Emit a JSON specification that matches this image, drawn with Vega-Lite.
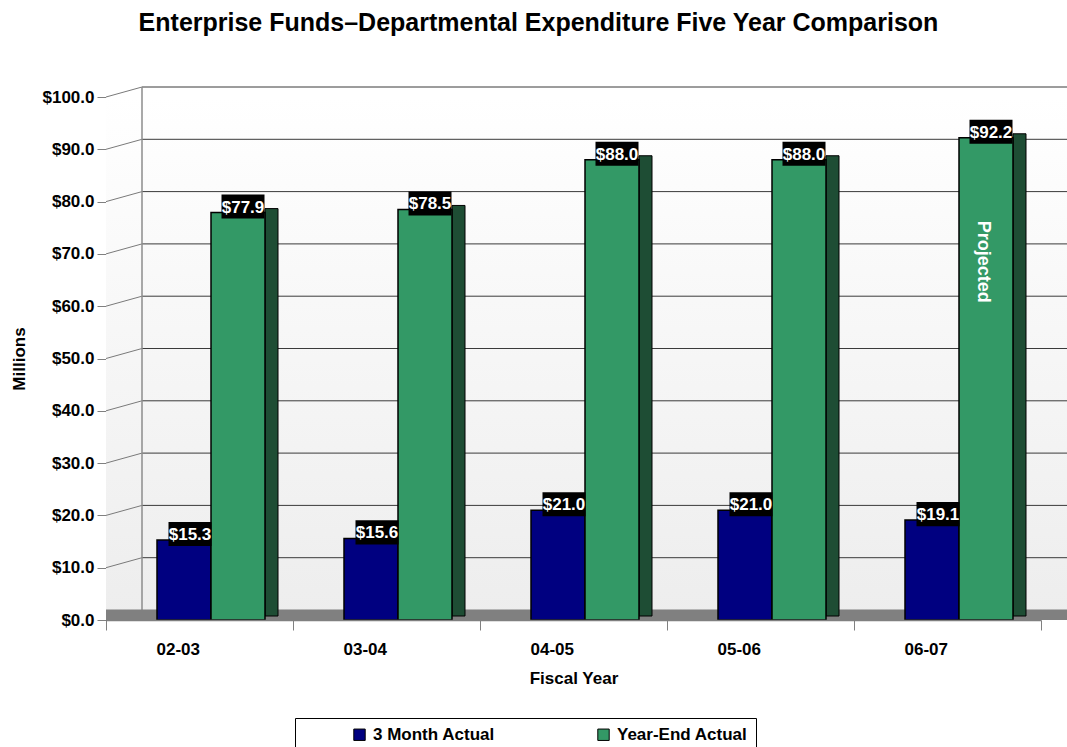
{
  "$schema": "https://vega.github.io/schema/vega-lite/v6.json",
  "width": 935,
  "height": 523,
  "autosize": {"type": "none"},
  "padding": {"left": 106, "top": 97, "right": 26, "bottom": 127},
  "background": "white",
  "title": {
    "text": "Enterprise Funds–Departmental Expenditure Five Year Comparison",
    "font": "Liberation Sans",
    "fontSize": 25,
    "fontWeight": "bold",
    "color": "black",
    "anchor": "middle",
    "frame": "group",
    "dx": -35,
    "offset": 50
  },
  "config": {
    "view": {"stroke": null},
    "legend": {
      "orient": "none",
      "legendX": 189,
      "legendY": 621,
      "direction": "horizontal",
      "strokeColor": "black",
      "fillColor": "white",
      "padding": 8,
      "symbolOffset": 48,
      "columnPadding": 52,
      "labelFont": "Liberation Sans",
      "labelFontSize": 17,
      "labelFontWeight": "bold",
      "labelColor": "black",
      "labelOffset": 5,
      "symbolType": "square",
      "symbolSize": 130,
      "symbolStrokeColor": "black",
      "symbolStrokeWidth": 1
    }
  },
  "datasets": {
    "bars": [
      {"year": "02-03", "series": "3 Month Actual", "value": 15.3},
      {"year": "02-03", "series": "Year-End Actual", "value": 77.9},
      {"year": "03-04", "series": "3 Month Actual", "value": 15.6},
      {"year": "03-04", "series": "Year-End Actual", "value": 78.5},
      {"year": "04-05", "series": "3 Month Actual", "value": 21.0},
      {"year": "04-05", "series": "Year-End Actual", "value": 88.0},
      {"year": "05-06", "series": "3 Month Actual", "value": 21.0},
      {"year": "05-06", "series": "Year-End Actual", "value": 88.0},
      {"year": "06-07", "series": "3 Month Actual", "value": 19.1},
      {"year": "06-07", "series": "Year-End Actual", "value": 92.2, "note": "Projected"}
    ],
    "grid": [
      {"value": 10}, {"value": 20}, {"value": 30}, {"value": 40}, {"value": 50},
      {"value": 60}, {"value": 70}, {"value": 80}, {"value": 90}, {"value": 100}
    ]
  },
  "data": {"name": "bars"},
  "layer": [
    {
      "data": {"values": [{}]},
      "mark": {
        "type": "rect",
        "color": {
          "gradient": "linear", "x1": 0, "y1": 0, "x2": 0, "y2": 1,
          "stops": [{"offset": 0, "color": "#ffffff"}, {"offset": 1, "color": "#ededed"}]
        },
        "x2Offset": 26
      },
      "encoding": {
        "x": {"datum": "02-03", "type": "nominal", "bandPosition": 0},
        "x2": {"datum": "06-07", "bandPosition": 1},
        "y": {"datum": 100, "type": "quantitative"},
        "y2": {"datum": 0}
      }
    },
    {
      "data": {"name": "grid"},
      "mark": {"type": "rule", "color": "#3a3a3a", "strokeWidth": 1, "xOffset": 36, "x2Offset": 40, "yOffset": -10, "y2Offset": -10},
      "encoding": {
        "x": {"datum": "02-03", "type": "nominal", "bandPosition": 0},
        "x2": {"datum": "06-07", "bandPosition": 1},
        "y": {"field": "value", "type": "quantitative"}
      }
    },
    {
      "data": {"name": "grid"},
      "mark": {"type": "rule", "color": "#7a7a7a", "strokeWidth": 1, "x2Offset": 36, "y2Offset": -10},
      "encoding": {
        "x": {"datum": "02-03", "type": "nominal", "bandPosition": 0},
        "x2": {"datum": "02-03", "bandPosition": 0},
        "y": {"field": "value", "type": "quantitative"},
        "y2": {"field": "value"}
      }
    },
    {
      "data": {"values": [{}]},
      "mark": {"type": "rule", "color": "#8c8c8c", "strokeWidth": 1.5, "xOffset": 36, "yOffset": -10, "y2Offset": -10},
      "encoding": {
        "x": {"datum": "02-03", "type": "nominal", "bandPosition": 0},
        "y": {"datum": 100, "type": "quantitative"},
        "y2": {"datum": 0}
      }
    },
    {
      "data": {"values": [{}]},
      "mark": {"type": "rect", "color": "#808080", "x2Offset": 26},
      "encoding": {
        "x": {"datum": "02-03", "type": "nominal", "bandPosition": 0},
        "x2": {"datum": "06-07", "bandPosition": 1},
        "y": {"datum": 2, "type": "quantitative"},
        "y2": {"datum": 0}
      }
    },
    {
      "transform": [{"filter": "datum.series == 'Year-End Actual'"}],
      "mark": {"type": "bar", "color": "#1e4d34", "stroke": "black", "strokeWidth": 1, "width": 13, "xOffset": 72, "yOffset": -4, "y2Offset": -4},
      "encoding": {
        "x": {"field": "year", "type": "nominal"},
        "y": {"field": "value", "type": "quantitative"},
        "y2": {"datum": 0}
      }
    },
    {
      "transform": [{"filter": "datum.series == '3 Month Actual'"}],
      "mark": {"type": "bar", "stroke": "black", "strokeWidth": 1.5, "width": 54, "xOffset": -15.5},
      "encoding": {
        "x": {
          "field": "year", "type": "nominal",
          "scale": {"paddingInner": 0, "paddingOuter": 0},
          "axis": {
            "labelAngle": 0,
            "title": "Fiscal Year",
            "tickBand": "extent",
            "domainColor": "#808080",
            "domainWidth": 1.5,
            "tickColor": "#808080",
            "tickSize": 10,
            "labelFont": "Liberation Sans",
            "labelFontSize": 17,
            "labelFontWeight": "bold",
            "labelColor": "black",
            "labelPadding": 19,
            "titleFont": "Liberation Sans",
            "titleFontSize": 17,
            "titleFontWeight": "bold",
            "titleColor": "black",
            "titlePadding": 13
          }
        },
        "y": {
          "field": "value", "type": "quantitative",
          "scale": {"domain": [0, 100], "nice": false},
          "axis": {
            "format": "$.1f",
            "values": [0, 10, 20, 30, 40, 50, 60, 70, 80, 90, 100],
            "grid": false,
            "domainColor": "black",
            "tickColor": "#808080",
            "tickSize": 9,
            "labelFont": "Liberation Sans",
            "labelFontSize": 17,
            "labelFontWeight": "bold",
            "labelColor": "black",
            "labelPadding": 3,
            "title": "Millions",
            "titleFont": "Liberation Sans",
            "titleFontSize": 17,
            "titleFontWeight": "bold",
            "titleColor": "black",
            "titlePadding": 14
          }
        },
        "color": {
          "field": "series", "type": "nominal",
          "scale": {"domain": ["3 Month Actual", "Year-End Actual"], "range": ["#000080", "#339966"]},
          "legend": {"title": null}
        }
      }
    },
    {
      "transform": [{"filter": "datum.series == 'Year-End Actual'"}],
      "mark": {"type": "bar", "stroke": "black", "strokeWidth": 1.5, "width": 54, "xOffset": 38.5},
      "encoding": {
        "x": {"field": "year", "type": "nominal"},
        "y": {"field": "value", "type": "quantitative"},
        "color": {"field": "series", "type": "nominal"}
      }
    },
    {
      "transform": [{"filter": "datum.series == '3 Month Actual'"}],
      "mark": {"type": "point", "shape": "M-1,-0.56H1V0.56H-1Z", "filled": true, "color": "black", "opacity": 1, "size": 1849, "xOffset": -9.5, "yOffset": -6},
      "encoding": {
        "x": {"field": "year", "type": "nominal"},
        "y": {"field": "value", "type": "quantitative"}
      }
    },
    {
      "transform": [{"filter": "datum.series == 'Year-End Actual'"}],
      "mark": {"type": "point", "shape": "M-1,-0.56H1V0.56H-1Z", "filled": true, "color": "black", "opacity": 1, "size": 1849, "xOffset": 43.5, "yOffset": -6},
      "encoding": {
        "x": {"field": "year", "type": "nominal"},
        "y": {"field": "value", "type": "quantitative"}
      }
    },
    {
      "transform": [{"filter": "datum.series == '3 Month Actual'"}],
      "mark": {"type": "text", "color": "white", "font": "Liberation Sans", "fontSize": 17, "fontWeight": "bold", "align": "center", "baseline": "middle", "xOffset": -9.5, "yOffset": -5},
      "encoding": {
        "x": {"field": "year", "type": "nominal"},
        "y": {"field": "value", "type": "quantitative"},
        "text": {"field": "value", "type": "quantitative", "format": "$.1f"}
      }
    },
    {
      "transform": [{"filter": "datum.series == 'Year-End Actual'"}],
      "mark": {"type": "text", "color": "white", "font": "Liberation Sans", "fontSize": 17, "fontWeight": "bold", "align": "center", "baseline": "middle", "xOffset": 43.5, "yOffset": -5},
      "encoding": {
        "x": {"field": "year", "type": "nominal"},
        "y": {"field": "value", "type": "quantitative"},
        "text": {"field": "value", "type": "quantitative", "format": "$.1f"}
      }
    },
    {
      "transform": [{"filter": "datum.note"}],
      "mark": {"type": "text", "color": "white", "font": "Liberation Sans", "fontSize": 18, "fontWeight": "bold", "align": "center", "baseline": "middle", "angle": 90, "xOffset": 35, "yOffset": 124},
      "encoding": {
        "x": {"field": "year", "type": "nominal"},
        "y": {"field": "value", "type": "quantitative"},
        "text": {"field": "note", "type": "nominal"}
      }
    }
  ]
}
